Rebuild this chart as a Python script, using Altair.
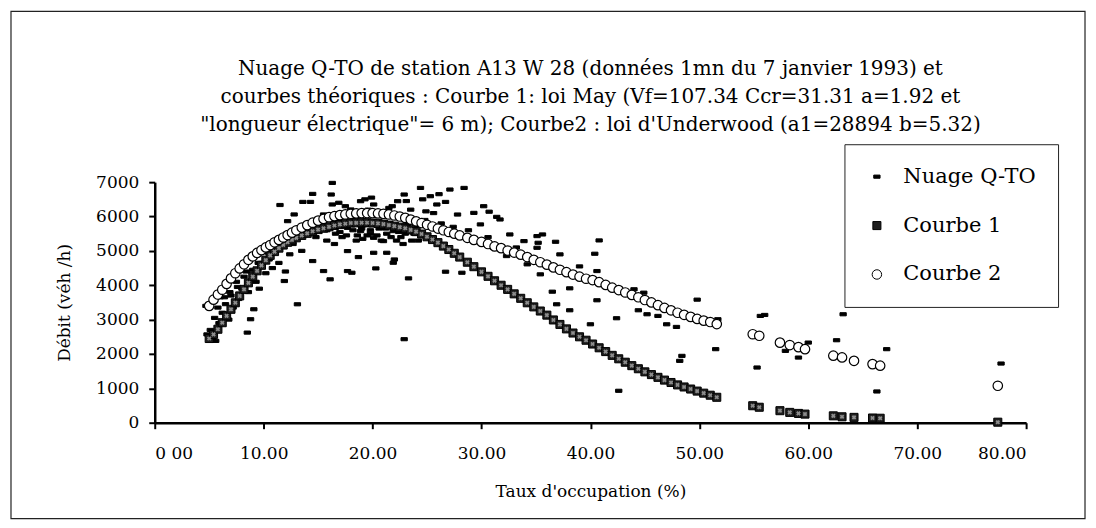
import altair as alt
import pandas as pd

# ---------------- data ----------------
series_names = ["Nuage Q-TO", "Courbe 1", "Courbe 2"]

title_lines = [
    "Nuage Q-TO de station A13 W 28 (données 1mn  du 7 janvier 1993) et",
    "courbes théoriques : Courbe 1: loi May (Vf=107.34  Ccr=31.31  a=1.92  et",
    "\"longueur électrique\"= 6 m); Courbe2 : loi d'Underwood (a1=28894  b=5.32)",
]

# observed cloud (occupation %, flow veh/h)
nuage_x = [4.7, 4.8, 5.1, 5.3, 5.6, 5.5, 5.9, 6.2, 6.0, 6.5, 6.8, 7.0, 7.2, 7.5, 7.7, 8.0,
           8.2, 8.5, 8.8, 9.1, 8.6, 9.0, 9.3, 9.6, 9.9, 10.2, 10.5, 10.8, 11.1, 11.4, 11.5,
           11.7, 11.9, 12.2, 12.0, 12.4, 12.8, 12.7, 13.1, 13.2, 13.6, 13.5, 13.9, 14.3,
           14.3, 14.5, 14.5, 14.8, 15.1, 15.5, 15.5, 15.8, 16.1, 16.2, 16.3, 16.3, 16.6,
           17.0, 17.2, 17.3, 17.5, 17.7, 17.7, 17.7, 18.0, 18.1, 18.3, 18.5, 18.7, 18.9,
           18.9, 19.0, 19.3, 19.3, 19.5, 19.6, 19.8, 20.1, 20.1, 20.1, 20.3, 20.5, 20.6,
           21.0, 21.0, 21.3, 21.3, 21.6, 21.8, 21.9, 21.9, 22.0, 22.2, 22.3, 22.6, 22.9,
           22.9, 23.0, 23.3, 23.5, 23.6, 23.9, 24.0, 24.4, 24.6, 24.8, 25.3, 25.6, 25.9,
           26.3, 26.7, 26.7, 27.1, 27.4, 27.8, 28.2, 28.4, 28.8, 29.3, 29.9, 30.2, 30.6,
           30.7, 31.1, 31.4, 31.7, 32.3, 32.6, 33.2, 33.9, 34.2, 35.1, 35.1, 35.2, 35.4,
           35.6, 36.5, 36.8, 36.9, 37.2, 38.1, 38.1, 39.0, 40.0, 40.4, 40.6, 40.6, 40.8,
           42.4, 42.6, 44.0, 44.4, 44.9, 45.2, 46.2, 47.0, 47.9, 48.2, 48.4, 49.8, 51.5,
           51.7, 55.3, 55.6, 56.0, 57.9, 59.1, 60.0, 62.6, 63.2, 66.3, 67.2, 77.7,
           15.8, 16.5, 17.0, 17.6, 18.2, 18.6, 19.1, 19.8, 20.4, 20.8, 21.2, 21.7, 22.4,
           22.8, 23.2, 23.8, 24.2, 16.9, 19.9, 21.5, 23.1, 24.9, 26.1, 7.6, 8.4, 9.5,
           10.4, 11.3, 12.1, 6.4, 5.8, 6.9]
nuage_y = [3400, 2570, 2700, 2450, 2380, 3050, 2900, 3200, 3650, 3450, 3000, 3700, 3350, 4100, 3600, 3900,
           4250, 2622, 3011, 3301, 3800, 4450, 4100, 3900, 4650, 4350, 4750, 4500, 5000, 4650, 6335,
           5150, 4123, 5865, 4400, 4900, 6060, 5200, 3446, 5500, 6425, 5000, 5650, 6425,
           5770, 6658, 4704, 5400, 5900, 6060, 4413, 5600, 4172, 6640, 6978, 6350, 5500,
           5850, 5400, 6100, 6300, 4994, 5670, 4413, 6205, 4364, 5900, 5300, 4820, 6446,
           5575, 5650, 5750, 6500, 5450, 6200, 5500, 6350, 5380, 4945, 4490, 5750, 5650,
           5284, 6000, 4945, 5500, 5800, 6300, 5575, 4655, 4750, 5300, 6446, 5400, 6640,
           2430, 5500, 4200, 6200, 5300, 5700, 5600, 6832, 6500, 5900, 6591, 6100, 6350,
           5800, 6425, 4394, 6785, 5700, 6058, 4364, 6832, 5600, 6106, 5770, 6300, 5400,
           6140, 5090, 5990, 5914, 4849, 5478, 5100, 5284, 4608, 5430, 5090, 5236, 4317,
           5478, 3813, 5265, 3446, 4898, 3910, 3272, 4548, 2864, 4917, 4413, 3563, 5304,
           3040, 929, 3883, 3272, 3784, 3156, 3107, 2864, 2787, 1800, 1945, 3581, 2140,
           3011, 1606, 3107, 3136, 2090, 1896, 2332, 2400, 3156, 909, 2140, 1722,
           5300, 5200, 5550, 5450, 5600, 5450, 5350, 5600, 5450, 5300, 5650, 5400, 5550,
           5200, 5750, 5500, 5300, 6400, 6550, 6250, 6450, 6150, 6650, 3950, 4400, 4650,
           4950, 5300, 5500, 3650, 3350, 3800]

# occupations at which the theoretical curves are plotted
occ = [5.0, 5.4, 5.8, 6.2, 6.6, 7.0, 7.4, 7.8, 8.2, 8.6, 9.0, 9.4, 9.8, 10.2, 10.6, 11.0,
       11.4, 11.8, 12.2, 12.6, 13.0, 13.5, 14.0, 14.5, 15.0, 15.5, 16.0, 16.5, 17.0, 17.5,
       18.0, 18.5, 19.0, 19.5, 20.0, 20.5, 21.0, 21.5, 22.0, 22.5, 23.0, 23.5, 24.0, 24.5,
       25.0, 25.5, 26.0, 26.5, 27.0, 27.5, 28.0, 28.7, 29.3, 30.0, 30.6, 31.2, 31.8, 32.4,
       33.0, 33.6, 34.2, 34.8, 35.4, 36.0, 36.6, 37.2, 37.8, 38.4, 39.0, 39.6, 40.2, 40.8,
       41.4, 42.0, 42.6, 43.2, 43.8, 44.4, 45.0, 45.6, 46.2, 46.8, 47.4, 48.0, 48.6, 49.2,
       49.8, 50.4, 51.0, 51.6, 54.9, 55.5, 57.4, 58.3, 59.1, 59.7, 62.3, 63.1, 64.2, 65.9,
       66.6, 77.4]

# Courbe 1 : loi May
courbe1 = [2450, 2570, 2720, 2910, 3110, 3300, 3490, 3690, 3880, 4070, 4250, 4420, 4580, 4730, 4870, 4980,
           5080, 5170, 5250, 5320, 5380, 5450, 5510, 5570, 5620, 5660, 5700, 5740, 5770, 5790,
           5810, 5815, 5820, 5820, 5810, 5800, 5780, 5750, 5720, 5690, 5660, 5610, 5560, 5490,
           5410, 5330, 5240, 5140, 5040, 4930, 4820, 4670, 4540, 4390, 4260, 4130, 4000, 3880,
           3750, 3620, 3490, 3370, 3250, 3130, 2990, 2860, 2730, 2610, 2500, 2400, 2290, 2180,
           2070, 1960, 1860, 1760, 1660, 1570, 1480, 1400, 1320, 1240, 1170, 1100, 1040, 980,
           920, 860, 800, 740, 494, 450, 350, 300, 270, 250, 200, 172, 155, 137,
           130, 15]

# Courbe 2 : loi d'Underwood
courbe2 = [3400, 3580, 3730, 3870, 4040, 4200, 4350, 4490, 4610, 4740, 4840, 4940, 5020, 5100, 5170, 5250,
           5320, 5390, 5460, 5530, 5600, 5680, 5750, 5820, 5880, 5930, 5980, 6010, 6040, 6060,
           6080, 6090, 6100, 6100, 6100, 6090, 6080, 6060, 6030, 6000, 5960, 5910, 5860, 5810,
           5760, 5710, 5650, 5600, 5550, 5500, 5450, 5380, 5320, 5260, 5200, 5130, 5080, 5010,
           4950, 4890, 4820, 4740, 4670, 4600, 4520, 4450, 4380, 4310, 4250, 4190, 4150, 4090,
           4010, 3930, 3860, 3790, 3720, 3650, 3570, 3500, 3420, 3340, 3270, 3200, 3140, 3080,
           3020, 2970, 2930, 2870, 2575, 2530, 2330, 2260, 2200, 2140, 1950, 1900, 1800, 1705,
           1660, 1075]

x_ticks = [0, 10, 20, 30, 40, 50, 60, 70, 80]
y_ticks = [0, 1000, 2000, 3000, 4000, 5000, 6000, 7000]

# ---------------- table ----------------
df = pd.concat([
    pd.DataFrame({"occ": nuage_x, "debit": nuage_y, "serie": series_names[0]}),
    pd.DataFrame({"occ": occ, "debit": courbe1, "serie": series_names[1]}),
    pd.DataFrame({"occ": occ, "debit": courbe2, "serie": series_names[2]}),
], ignore_index=True)

FONT = "DejaVu Serif"
W, H = 873, 241

dash_path = "M-1,-0.5L1,-0.5L1,0.5L-1,0.5Z"

leg = alt.Legend(
    title=None, orient="none", legendX=691, legendY=-38,
    labelFont=FONT, labelFontSize=21, labelColor="black", labelOffset=16,
    padding=22, rowPadding=27, strokeColor="#222", fillColor="white",
    symbolStrokeWidth=1,
)

x_enc = alt.X("occ:Q", title="Taux d'occupation (%)",
              scale=alt.Scale(domain=[0, 80], nice=False, zero=False),
              axis=alt.Axis(values=x_ticks,
                            labelExpr="datum.value == 0 ? '0 00' : format(datum.value, '.2f')",
                            labelPadding=17, titlePadding=22))
y_enc = alt.Y("debit:Q", title="Débit (véh /h)",
              scale=alt.Scale(domain=[0, 7000], nice=False),
              axis=alt.Axis(values=y_ticks, format="d", labelPadding=10, titlePadding=22))

def series_enc():
    return dict(
        shape=alt.Shape("serie:N", scale=alt.Scale(domain=series_names, range=[dash_path, "square", "circle"]), legend=leg),
        fill=alt.Fill("serie:N", scale=alt.Scale(domain=series_names, range=["black", "#1e1e1e", "white"]), legend=leg),
        size=alt.Size("serie:N", scale=alt.Scale(domain=series_names, range=[40, 90, 90]), legend=leg),
        stroke=alt.Stroke("serie:N", scale=alt.Scale(domain=series_names, range=["black", "black", "black"]), legend=leg),
    )

base = alt.Chart(df).encode(x=x_enc, y=y_enc)

pts_low = base.transform_filter(
    alt.FieldOneOfPredicate(field="serie", oneOf=series_names[:2])
).mark_point(filled=True, opacity=1, strokeWidth=1).encode(**series_enc())

hatch = base.transform_filter(
    alt.FieldEqualPredicate(field="serie", equal=series_names[1])
).mark_point(filled=True, opacity=1, shape="cross", angle=45, size=22, color="#8c8c8c", strokeWidth=0)

circles = base.transform_filter(
    alt.FieldEqualPredicate(field="serie", equal=series_names[2])
).mark_point(filled=True, opacity=1, strokeWidth=1.2).encode(**series_enc())

one_row = alt.Data(values=[{"k": 0}])

frame = alt.Chart(one_row).mark_rect(fillOpacity=0, stroke="#222", strokeWidth=1.2).encode(
    x=alt.value(-144), x2=alt.value(932), y=alt.value(-171), y2=alt.value(337))

title = alt.Chart(one_row).mark_text(
    font=FONT, fontSize=20, lineHeight=28, align="center", baseline="top", color="black"
).encode(text=alt.value(title_lines), x=alt.value(W / 2), y=alt.value(-123))

chart = alt.layer(frame, title, pts_low, hatch, circles).properties(
    width=W, height=H, padding={"left": 2, "top": 2, "right": 2, "bottom": 2}
).configure(background="white").configure_view(stroke=None).configure_axis(
    labelFont=FONT, labelFontSize=17, labelColor="black",
    titleFont=FONT, titleFontSize=17, titleFontWeight="normal", titleColor="black",
    domainColor="black", domainWidth=2.5, tickColor="black", tickWidth=2, tickSize=6,
    grid=False,
).configure_text(font=FONT)

chart.save("out.html", embed_options={"renderer": "svg", "actions": False})
